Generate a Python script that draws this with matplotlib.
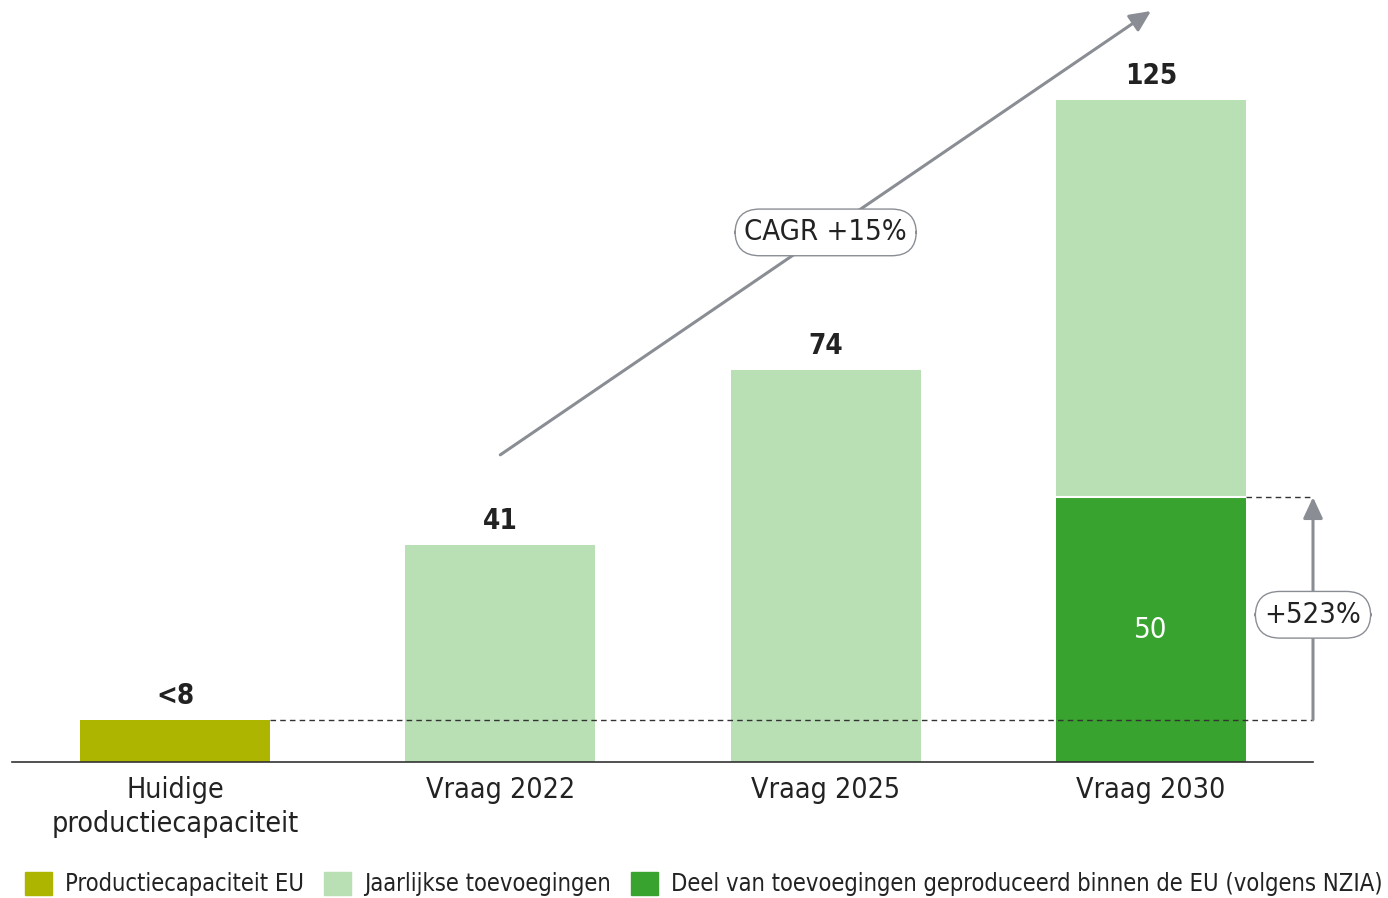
import numpy as np
import matplotlib.pyplot as plt
from matplotlib.patches import Patch

plt.rcParams['font.family'] = ['DejaVu Sans']
plt.rcParams['font.stretch'] = 'condensed'

# data
categories = ['Huidige\nproductiecapaciteit', 'Vraag 2022', 'Vraag 2025', 'Vraag 2030']
capacity = [8, 0, 0, 0]
additions = [0, 41, 74, 75]
eu_share = [0, 0, 0, 50]
value_labels = ['<8', '41', '74', '125']
totals = [8, 41, 74, 125]
cagr_label = 'CAGR +15%'
growth_label = '+523%'
legend_labels = ['Productiecapaciteit EU', 'Jaarlijkse toevoegingen',
                 'Deel van toevoegingen geproduceerd binnen de EU (volgens NZIA)']

c_olive = '#adb500'
c_light = '#b9e0b5'
c_dark = '#38a32e'
c_grey = '#8a8e94'
c_text = '#222222'

fig = plt.figure(figsize=(13.88, 8.98), dpi=100)
ax = fig.add_axes([12 / 1388, 136 / 898, 1301 / 1388, 144 * 5.296 / 898])

x = np.arange(len(categories))
w = 0.584
ax.bar(x, capacity, w, color=c_olive)
ax.bar(x, eu_share, w, color=c_dark)
ax.bar(x, additions, w, bottom=eu_share, color=c_light, linewidth=0)
# white separator between dark and light segment
ax.plot([3 - w / 2, 3 + w / 2], [50, 50], color='white', lw=1.5)

ax.set_xlim(-0.501, 3.498)
ax.set_ylim(0, 144)

for i, t in enumerate(totals):
    ax.annotate(value_labels[i], (x[i], t), xytext=(0, 7), textcoords='offset points',
                ha='center', va='bottom', fontsize=20, fontweight='bold', color=c_text)

ax.text(3, 25, '50', ha='center', va='center', fontsize=21, color='white')

# dashed reference lines
ax.plot([w / 2, 3.498], [8, 8], ls=(0, (4, 3)), color='#333333', lw=1, clip_on=False)
ax.plot([3 + w / 2, 3.498], [50, 50], ls=(0, (4, 3)), color='#333333', lw=1, clip_on=False)

arrow_style = dict(arrowstyle='-|>,head_length=0.75,head_width=0.35', color=c_grey,
                   lw=2.2, mutation_scale=17, shrinkA=0, shrinkB=0)
pill = dict(boxstyle='round,pad=0.32,rounding_size=0.85', fc='white', ec=c_grey, lw=1)

# growth arrow on the right
ax.annotate('', xy=(3.498, 50), xytext=(3.498, 8), arrowprops=arrow_style,
            annotation_clip=False)
ax.text(3.498, 27.8, growth_label, ha='center', va='center', fontsize=21, color=c_text,
        bbox=pill, clip_on=False)

# CAGR arrow
ax.annotate('', xy=(3.0, 141.8), xytext=(1.0, 58), arrowprops=arrow_style,
            annotation_clip=False)
ax.text(2.0, 100, cagr_label, ha='center', va='center', fontsize=21, color=c_text,
        bbox=pill)

for s in ['top', 'right', 'left']:
    ax.spines[s].set_visible(False)
ax.spines['bottom'].set_color('#333333')
ax.spines['bottom'].set_linewidth(1.2)
ax.set_yticks([])
ax.set_xticks(x)
ax.set_xticklabels(categories, fontsize=20.5, color=c_text, linespacing=1.3)
ax.tick_params(axis='x', length=0, pad=10)

handles = [Patch(color=c_olive), Patch(color=c_light), Patch(color=c_dark)]
fig.legend(handles, legend_labels, loc='center left', bbox_to_anchor=(25 / 1388, 14 / 898),
           ncol=3, frameon=False, fontsize=17, handlelength=1.15, handleheight=1.15,
           handletextpad=0.55, columnspacing=0.85, labelcolor=c_text,
           borderpad=0, borderaxespad=0)

fig.savefig('out.png', dpi=100)
